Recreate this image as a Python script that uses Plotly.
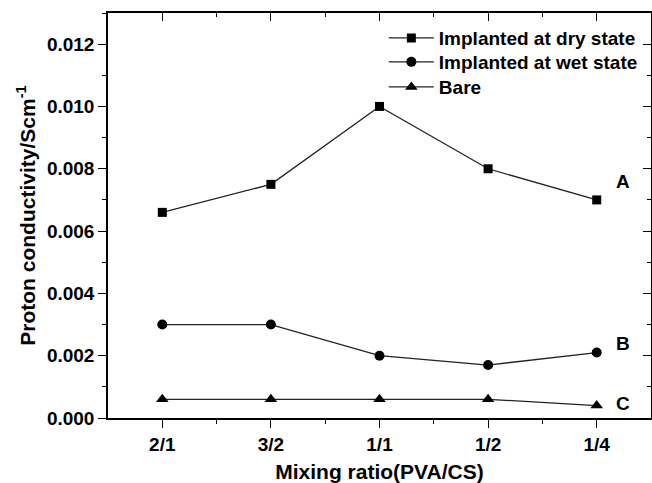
import plotly.graph_objects as go

categories = ["2/1", "3/2", "1/1", "1/2", "1/4"]
dry_state = [0.0066, 0.0075, 0.0100, 0.0080, 0.0070]
wet_state = [0.0030, 0.0030, 0.0020, 0.0017, 0.0021]
bare = [0.0006, 0.0006, 0.0006, 0.0006, 0.0004]
series_names = ["Implanted at dry state", "Implanted at wet state", "Bare"]
curve_labels = ["A", "B", "C"]
label_pos_y = [0.00759, 0.00238, 0.00048]

xpos = list(range(len(categories)))
FONT = "Liberation Sans, Arial, sans-serif"
LC = "#222222"
legend_ids = ["legend", "legend2", "legend3"]
legend_y = [0.938, 0.879, 0.817]

fig = go.Figure()
for name, vals, sym, sz, lg in zip(series_names, [dry_state, wet_state, bare],
                                   ["square", "circle", "triangle-up"], [9, 10, 11], legend_ids):
    fig.add_trace(go.Scatter(
        x=xpos, y=vals, name="<b>%s</b>" % name, mode="lines+markers",
        line=dict(color=LC, width=1.3),
        marker=dict(symbol=sym, size=sz, color="black"),
        legend=lg,
    ))

# empty trace so the mirrored (inside-tick) axes get drawn
fig.add_trace(go.Scatter(x=[None], y=[None], xaxis="x2", yaxis="y2", showlegend=False,
                         hoverinfo="skip", mode="markers"))

for lab, yv in zip(curve_labels, label_pos_y):
    fig.add_annotation(x=4.24, y=yv, text="<b>%s</b>" % lab, showarrow=False,
                       font=dict(family=FONT, size=19, color="black"),
                       xref="x", yref="y")

bold = dict(family=FONT, size=19, color="black")
xr = [-0.5, 4.5]
yr = [0, 0.013]

legend_common = dict(
    x=0.508, xanchor="left", yanchor="middle",
    font=dict(family=FONT, size=19, color="black"),
    bgcolor="rgba(0,0,0,0)", borderwidth=0, itemwidth=45,
)

fig.update_layout(
    width=652, height=483,
    margin=dict(l=108, r=1, t=13, b=65),
    paper_bgcolor="white", plot_bgcolor="white",
    font=dict(family=FONT, color="black"),
    xaxis=dict(
        range=xr, tickmode="array", tickvals=xpos, ticktext=["<b>%s</b>" % c for c in categories],
        tickfont=bold, ticks="outside", ticklen=8, tickwidth=1.2, tickcolor="black",
        showline=True, linecolor="black", linewidth=1.5, showgrid=False, zeroline=False,
        minor=dict(tickvals=[0.5, 1.5, 2.5, 3.5], ticks="outside", ticklen=4,
                   tickwidth=1.2, tickcolor="black", showgrid=False),
        title=dict(text="<b>Mixing ratio(PVA/CS)</b>", font=dict(family=FONT, size=21, color="black"),
                   standoff=15),
        automargin=False,
    ),
    yaxis=dict(
        range=yr, tickmode="linear", tick0=0, dtick=0.002, tickformat=".3f",
        tickfont=bold, ticks="outside", ticklen=8, tickwidth=1.2, tickcolor="black",
        showline=True, linecolor="black", linewidth=1.5, showgrid=False, zeroline=False,
        minor=dict(dtick=0.001, ticks="outside", ticklen=4, tickwidth=1.2,
                   tickcolor="black", showgrid=False),
        tickprefix="<b>", ticksuffix="</b>",
        title=dict(text="<b>Proton conductivity/Scm<sup>-1</sup></b>",
                   font=dict(family=FONT, size=21, color="black"), standoff=6),
        automargin=False,
    ),
    xaxis2=dict(
        range=xr, overlaying="x", side="top", anchor="y2", tickmode="array", tickvals=xpos,
        showticklabels=False, ticks="inside", ticklen=8, tickwidth=1.2, tickcolor="black",
        showline=True, linecolor="black", linewidth=1.5, showgrid=False, zeroline=False,
        minor=dict(tickvals=[0.5, 1.5, 2.5, 3.5], ticks="inside", ticklen=4,
                   tickwidth=1.2, tickcolor="black", showgrid=False),
    ),
    yaxis2=dict(
        range=yr, overlaying="y", side="right", anchor="x2", tickmode="linear", tick0=0,
        dtick=0.002, showticklabels=False, ticks="inside", ticklen=8, tickwidth=1.2,
        tickcolor="black", showline=True, linecolor="black", linewidth=1.5,
        showgrid=False, zeroline=False,
        minor=dict(dtick=0.001, ticks="inside", ticklen=4, tickwidth=1.2,
                   tickcolor="black", showgrid=False),
    ),
    legend=dict(y=legend_y[0], **legend_common),
    legend2=dict(y=legend_y[1], **legend_common),
    legend3=dict(y=legend_y[2], **legend_common),
    showlegend=True,
)

fig.write_html("out.html")
